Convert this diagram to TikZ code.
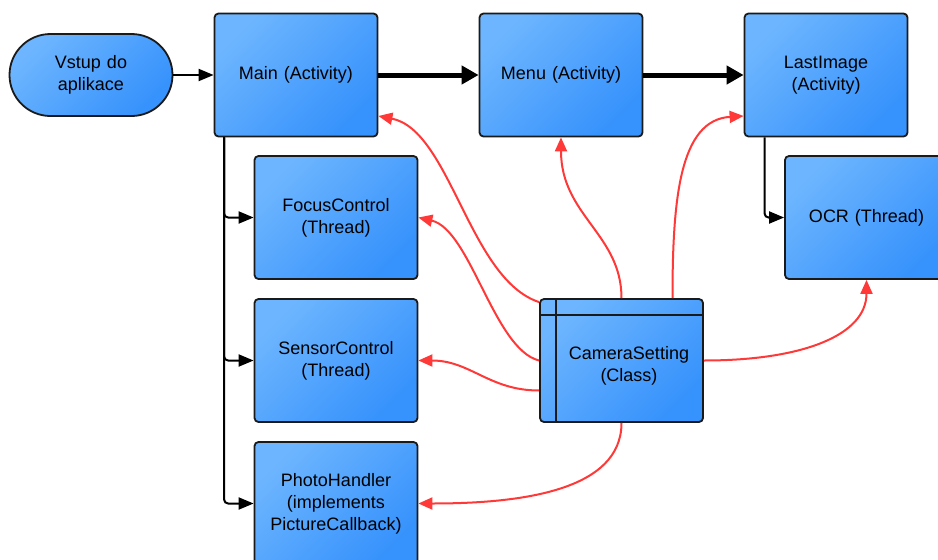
\documentclass[tikz,border=0pt]{standalone}
\usepackage{fontspec}
\setmainfont{Liberation Sans}
\usetikzlibrary{arrows.meta,calc}
\definecolor{boxlight}{HTML}{6DB5FE}
\definecolor{boxdark}{HTML}{3692FC}
\definecolor{bordercol}{HTML}{1A1A1A}
\definecolor{redline}{HTML}{FF3838}
\tikzset{
  box/.style={draw=bordercol, line width=1.8pt, rounded corners=4pt,
    minimum width=163pt, minimum height=123pt, inner sep=0pt,
    top color=boxlight, bottom color=boxdark, shading angle=45,
    align=center, text width=155pt, font=\fontsize{18}{22}\selectfont},
  stadium/.style={box, rounded corners=41pt, minimum height=82pt, minimum width=163pt},
  thinarrow/.style={line width=2pt, draw=black, -{Triangle[length=15pt,width=12pt]}},
  thickarrow/.style={line width=5pt, draw=black, -{Triangle[length=17pt,width=18pt]}},
  branch/.style={thinarrow, rounded corners=4pt},
  redarrow/.style={line width=2pt, draw=redline, -{Triangle[length=14pt,width=12pt]}},
  divider/.style={draw=bordercol, line width=2pt},
  label text/.style={align=center, font=\fontsize{18}{22}\selectfont, inner sep=0pt}
}
\begin{document}
\begin{tikzpicture}[x=1pt,y=-1pt]
\useasboundingbox (0,0) rectangle (938,560);
\clip (0,0) rectangle (938,560);
% nodes
\node[stadium] (vstup) at (91,75) {Vstup do\\aplikace};
\node[box] (main) at (296,75) {Main (Activity)};
\node[box] (menu) at (561,75) {Menu (Activity)};
\node[box] (last) at (826,75) {LastImage\\(Activity)};
\node[box] (focus) at (336,217.5) {FocusControl\\(Thread)};
\node[box] (sensor) at (336,360.5) {SensorControl\\(Thread)};
\node[box] (photo) at (336,503.5) {PhotoHandler\\(implements\\PictureCallback)};
\node[box] (ocr) at (866.5,217.5) {OCR (Thread)};
\node[box] (cs) at (621.5,360.5) {};
\draw[divider] ([xshift=17pt]cs.north west) -- ([xshift=17pt]cs.south west);
\draw[divider] ([yshift=-17pt]cs.north west) -- ([yshift=-17pt]cs.north east);
\node[label text] (cstext) at (629,366) {CameraSetting\\(Class)};
% black connectors
\draw[thinarrow] (vstup.east) -- (main.west);
\draw[thickarrow] (main.east) -- (menu.west);
\draw[thickarrow] (menu.east) -- (last.west);
\coordinate (trunk) at ([xshift=10.5pt]main.south west);
\draw[branch] (trunk) |- (focus.west);
\draw[branch] (trunk) |- (sensor.west);
\draw[branch] (trunk) |- (photo.west);
\coordinate (ltrunk) at ([xshift=21pt]last.south west);
\draw[branch] (ltrunk) |- (ocr.west);
% red connectors
\draw[redarrow] ([yshift=-4pt]cs.north west) .. controls +(-70,-23) and +(72,14) .. ([yshift=-41pt]main.east);
\draw[redarrow] (cs.west) .. controls +(-45,-11) and +(52,12) .. (focus.east);
\draw[redarrow] ([yshift=-30pt]cs.west) .. controls +(-50,0) and +(52,0) .. (sensor.east);
\draw[redarrow] (cs.south) .. controls +(0,68) and +(102,0) .. (photo.east);
\draw[redarrow] (cs.north) .. controls +(0,-64) and +(0,78) .. (menu.south);
\draw[redarrow] ([xshift=51pt]cs.north) .. controls +(0,-99) and +(-64,4) .. ([yshift=-41pt]last.west);
\draw[redarrow] (cs.east) .. controls +(97,0) and +(0,56) .. (ocr.south);
\end{tikzpicture}
\end{document}
